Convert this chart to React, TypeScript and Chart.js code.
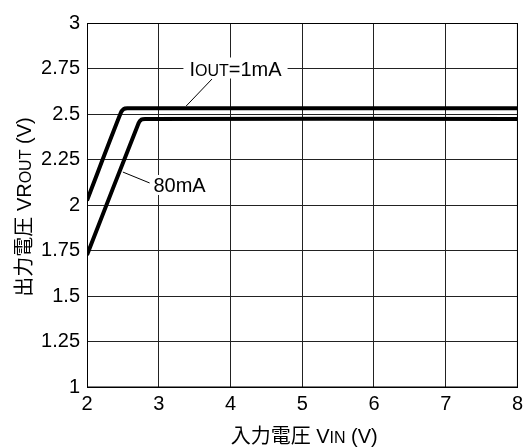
import React, { useEffect, useRef } from "react";
import { Chart, registerables } from "chart.js";

Chart.register(...registerables);

// Data
const vin1mA = [2.0, 2.47, 2.51, 2.56, 8.0];
const vout1mA = [2.025, 2.505, 2.527, 2.531, 2.531];
const vin80mA = [2.0, 2.72, 2.76, 2.81, 8.0];
const vout80mA = [1.725, 2.45, 2.47, 2.473, 2.473];

const xTicks = [2, 3, 4, 5, 6, 7, 8];
const yTicks = [1, 1.25, 1.5, 1.75, 2, 2.25, 2.5, 2.75, 3];
const yTickLabels = ["1", "1.25", "1.5", "1.75", "2", "2.25", "2.5", "2.75", "3"];

const FONT_FAMILY = '"Liberation Sans", Arial, "Noto Sans CJK JP", sans-serif';
const BIG = 20;
const SMALL = 16;

type Seg = { t: string; small?: boolean };

function segWidth(ctx: CanvasRenderingContext2D, segs: Seg[], big: number, small: number) {
  let w = 0;
  for (const s of segs) {
    ctx.font = `${s.small ? small : big}px ${FONT_FAMILY}`;
    w += ctx.measureText(s.t).width;
  }
  return w;
}

function drawSegs(ctx: CanvasRenderingContext2D, segs: Seg[], x: number, y: number, big: number, small: number) {
  let cx = x;
  ctx.textAlign = "left";
  ctx.textBaseline = "alphabetic";
  for (const s of segs) {
    ctx.font = `${s.small ? small : big}px ${FONT_FAMILY}`;
    ctx.fillText(s.t, cx, y);
    cx += ctx.measureText(s.t).width;
  }
}

const labelPlugin = {
  id: "labels",
  afterDatasetsDraw(chart: any) {
    const ctx: CanvasRenderingContext2D = chart.ctx;
    const xs = chart.scales.x;
    const ys = chart.scales.y;
    const area = chart.chartArea;
    ctx.save();
    ctx.fillStyle = "#000";
    ctx.strokeStyle = "#000";

    // IOUT=1mA label
    const s1: Seg[] = [{ t: "I" }, { t: "OUT", small: true }, { t: "=1mA" }];
    const w1 = segWidth(ctx, s1, BIG, SMALL);
    const cx1 = xs.getPixelForValue(4.07);
    const cy1 = ys.getPixelForValue(2.75);
    ctx.fillStyle = "#fff";
    ctx.fillRect(cx1 - w1 / 2 - 6, cy1 - 11, w1 + 12, 21);
    ctx.fillStyle = "#000";
    drawSegs(ctx, s1, cx1 - w1 / 2, cy1 + 7, BIG, SMALL);

    // 80mA label
    const s2: Seg[] = [{ t: "80mA" }];
    const w2 = segWidth(ctx, s2, BIG, SMALL);
    const cx2 = xs.getPixelForValue(3.29);
    const cy2 = ys.getPixelForValue(2.11);
    ctx.fillStyle = "#fff";
    ctx.fillRect(cx2 - w2 / 2 - 2, cy2 - 10, w2 + 4, 20);
    ctx.fillStyle = "#000";
    drawSegs(ctx, s2, cx2 - w2 / 2, cy2 + 7, BIG, SMALL);

    // leader lines
    ctx.lineWidth = 1;
    ctx.beginPath();
    ctx.moveTo(xs.getPixelForValue(3.742), ys.getPixelForValue(2.692));
    ctx.lineTo(xs.getPixelForValue(3.383), ys.getPixelForValue(2.544));
    ctx.moveTo(xs.getPixelForValue(2.873), ys.getPixelForValue(2.121));
    ctx.lineTo(xs.getPixelForValue(2.5), ys.getPixelForValue(2.181));
    ctx.stroke();

    // x axis title
    const sx: Seg[] = [{ t: "入力電圧 V" }, { t: "IN", small: true }, { t: " (V)" }];
    const wx = segWidth(ctx, sx, BIG, SMALL);
    const midX = (area.left + area.right) / 2 + 2;
    drawSegs(ctx, sx, midX - wx / 2, 443, BIG, SMALL);

    // y axis title
    const sy: Seg[] = [{ t: "出力電圧 VR" }, { t: "OUT", small: true }, { t: " (V)" }];
    const wy = segWidth(ctx, sy, BIG, SMALL);
    const midY = (area.top + area.bottom) / 2 + 2;
    ctx.translate(31, midY);
    ctx.rotate(-Math.PI / 2);
    drawSegs(ctx, sy, -wy / 2, 0, BIG, SMALL);
    ctx.restore();
  },
};

export default function App() {
  const ref = useRef<HTMLCanvasElement | null>(null);

  useEffect(() => {
    if (!ref.current) return;
    const chart = new Chart(ref.current, {
      type: "line",
      data: {
        datasets: [
          {
            label: "1mA",
            data: vin1mA.map((x, i) => ({ x, y: vout1mA[i] })),
            borderColor: "#000",
            borderWidth: 4,
            pointRadius: 0,
            tension: 0.3,
            borderJoinStyle: "round",
            fill: false,
          },
          {
            label: "80mA",
            data: vin80mA.map((x, i) => ({ x, y: vout80mA[i] })),
            borderColor: "#000",
            borderWidth: 4,
            pointRadius: 0,
            tension: 0.3,
            borderJoinStyle: "round",
            fill: false,
          },
        ],
      },
      options: {
        responsive: false,
        animation: false,
        devicePixelRatio: 1,
        layout: { padding: { top: 23, right: 6, left: 0, bottom: 0 } },
        plugins: {
          legend: { display: false },
          tooltip: { enabled: false },
        },
        scales: {
          x: {
            type: "linear",
            min: 2,
            max: 8,
            afterBuildTicks: (scale: any) => {
              scale.ticks = xTicks.map((v) => ({ value: v }));
            },
            afterFit: (scale: any) => {
              scale.height = 60;
            },
            ticks: {
              color: "#000",
              font: { size: BIG, family: FONT_FAMILY },
              padding: 5,
              maxRotation: 0,
              autoSkip: false,
            },
            grid: { color: "#222", lineWidth: 1, drawTicks: false },
            border: { color: "#000", width: 1 },
          },
          y: {
            type: "linear",
            min: 1,
            max: 3,
            afterBuildTicks: (scale: any) => {
              scale.ticks = yTicks.map((v) => ({ value: v }));
            },
            afterFit: (scale: any) => {
              scale.width = 87;
            },
            ticks: {
              color: "#000",
              font: { size: BIG, family: FONT_FAMILY },
              padding: 7,
              autoSkip: false,
              callback: (v: any) => {
                const i = yTicks.indexOf(Number(v));
                return i >= 0 ? yTickLabels[i] : "";
              },
            },
            grid: { color: "#222", lineWidth: 1, drawTicks: false },
            border: { color: "#000", width: 1 },
          },
        },
      },
      plugins: [
        labelPlugin,
        {
          id: "topRightBorder",
          afterDraw(chart: any) {
            const { ctx, chartArea: a } = chart;
            ctx.save();
            ctx.strokeStyle = "#000";
            ctx.lineWidth = 1;
            ctx.strokeRect(a.left + 0.5, a.top + 0.5, a.right - a.left - 0.5, a.bottom - a.top - 0.5);
            ctx.restore();
          },
        },
      ],
    } as any);
    return () => chart.destroy();
  }, []);

  return (
    <div style={{ position: "fixed", left: 0, top: 0, width: 528, height: 447, background: "#fff" }}>
      <canvas ref={ref} width={528} height={447} style={{ display: "block" }} />
    </div>
  );
}
